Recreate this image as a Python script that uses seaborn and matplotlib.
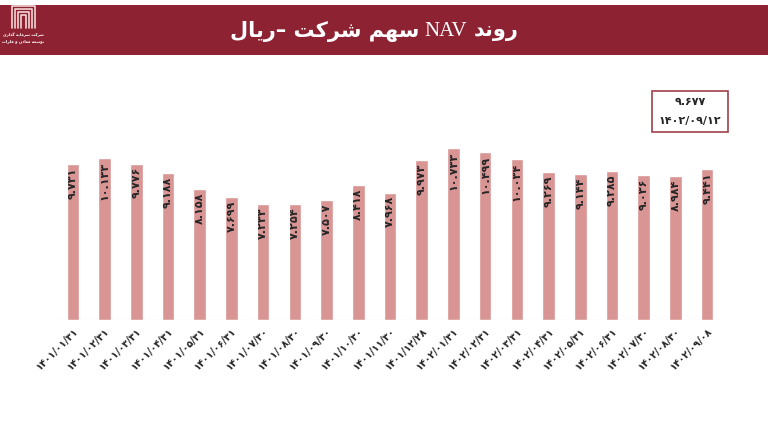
import matplotlib.pyplot as plt
import seaborn as sns
from matplotlib.patches import Rectangle

# ---- data ----
dates = [
    "1401/01/31", "1401/02/31", "1401/03/31", "1401/04/31", "1401/05/31",
    "1401/06/31", "1401/07/30", "1401/08/30", "1401/09/30", "1401/10/30",
    "1401/11/30", "1401/12/28", "1402/01/31", "1402/02/31", "1402/03/31",
    "1402/04/31", "1402/05/31", "1402/06/31", "1402/07/30", "1402/08/30",
    "1402/09/08",
]
nav = [
    9.731, 10.133, 9.776, 9.188, 8.158, 7.699, 7.233, 7.254, 7.507, 8.418,
    7.968, 9.973, 10.733, 10.499, 10.034, 9.269, 9.144, 9.285, 9.036, 8.984,
    9.441,
]
latest_nav = "9.677"
latest_date = "1402/09/12"

# title: "روند NAV سهم شرکت –ریال", split so NAV can be set in a serif face
title_right = "روند"
title_mid = "NAV"
title_left = "سهم شرکت –ریال"
company_lines = ["شرکت سرمایه گذاری", "توسعه معادن و فلزات"]

BAR_COLOR = "#D99594"
HEADER_COLOR = "#8C2232"

# ---- minimal Persian shaping (matplotlib does no Arabic shaping) ----
FORMS = {
    "ا": "\uFE8D\uFE8E", "د": "\uFEA9\uFEAA", "ذ": "\uFEAB\uFEAC",
    "ر": "\uFEAD\uFEAE", "ز": "\uFEAF\uFEB0", "و": "\uFEED\uFEEE",
    "ت": "\uFE95\uFE96\uFE97\uFE98", "س": "\uFEB1\uFEB2\uFEB3\uFEB4",
    "ش": "\uFEB5\uFEB6\uFEB7\uFEB8", "ع": "\uFEC9\uFECA\uFECB\uFECC",
    "ف": "\uFED1\uFED2\uFED3\uFED4", "ل": "\uFEDD\uFEDE\uFEDF\uFEE0",
    "م": "\uFEE1\uFEE2\uFEE3\uFEE4", "ن": "\uFEE5\uFEE6\uFEE7\uFEE8",
    "ه": "\uFEE9\uFEEA\uFEEB\uFEEC", "ک": "\uFB8E\uFB8F\uFB90\uFB91",
    "گ": "\uFB92\uFB93\uFB94\uFB95", "ی": "\uFBFC\uFBFD\uFBFE\uFBFF",
}


def shape_word(word):
    out = []
    for i, ch in enumerate(word):
        if ch not in FORMS:
            out.append(ch)
            continue
        prev = word[i - 1] if i > 0 else ""
        nxt = word[i + 1] if i + 1 < len(word) else ""
        join_prev = prev in FORMS and len(FORMS[prev]) == 4
        join_next = len(FORMS[ch]) == 4 and nxt in FORMS
        f = FORMS[ch]
        if join_prev and join_next:
            out.append(f[3])
        elif join_prev:
            out.append(f[1])
        elif join_next:
            out.append(f[2])
        else:
            out.append(f[0])
    return "".join(reversed(out))


def fa(text):
    words = text.split(" ")
    vis = []
    for w in reversed(words):
        if any(c in FORMS for c in w):
            vis.append(shape_word(w))
        else:
            vis.append(w)
    return " ".join(vis)


def fa_digits(s):
    return s.translate(str.maketrans("0123456789", "۰۱۲۳۴۵۶۷۸۹"))


# ---- figure ----
sns.set_style("white")
plt.rcParams["font.family"] = ["DejaVu Sans"]

fig = plt.figure(figsize=(7.68, 4.32), dpi=100)

# decoration layer in pixel coordinates
deco = fig.add_axes([0, 0, 1, 1], zorder=0)
deco.set_xlim(0, 768)
deco.set_ylim(432, 0)
deco.axis("off")
deco.add_patch(Rectangle((0, 5), 768, 50, color=HEADER_COLOR, lw=0))

# logo: nested arches
for inset in [0, 3, 6, 9]:
    x0, x1 = 12 + inset, 35 - inset
    y0, y1 = 6 + inset, 28
    deco.plot([x0, x0, x1, x1], [y1, y0, y0, y1], color="#F3D6D6", lw=1.2)
for j, line in enumerate(company_lines):
    deco.text(23, 35 + j * 6, fa(line), color="white", fontsize=2.8,
              ha="center", va="center", fontweight="bold")

deco.text(474, 31, fa(title_right), color="white", fontsize=15,
          fontweight="bold", ha="left", va="center")
deco.text(446, 32, title_mid, color="white", fontsize=15,
          family="Liberation Serif", ha="center", va="center")
deco.text(419, 31, fa(title_left), color="white", fontsize=15,
          fontweight="bold", ha="right", va="center")

# latest value box
deco.add_patch(Rectangle((652, 91), 76, 41, fill=False, ec="#A0414B", lw=1.2))
deco.text(690, 102, fa_digits(latest_nav), fontsize=8, fontweight="bold",
          ha="center", va="center")
deco.text(690, 121, fa_digits(latest_date), fontsize=8, fontweight="bold",
          ha="center", va="center")

# chart
ax = fig.add_axes([57 / 768, 1 - 320 / 432, 666 / 768, 220 / 432], zorder=1)
ax.patch.set_alpha(0)
labels = [fa_digits(d) for d in dates]
sns.barplot(x=labels, y=nav, color=BAR_COLOR, width=0.4, saturation=1, ax=ax)

for i, v in enumerate(nav):
    ax.annotate(fa_digits(f"{v:.3f}"), xy=(i, v), xytext=(0, -2.5),
                textcoords="offset points", rotation=90, ha="center",
                va="top", fontsize=8, fontweight="bold")

ax.set_xlim(-0.5, len(nav) - 0.5)
ax.set_ylim(0, 13.75)
ax.axhline(0, color="#D9D9D9", lw=0.8)
for s in ax.spines.values():
    s.set_visible(False)
ax.set_yticks([])
ax.set_xlabel("")
ax.set_ylabel("")
ax.tick_params(axis="x", length=0, pad=4)
for t in ax.get_xticklabels():
    t.set_rotation(45)
    t.set_ha("right")
    t.set_rotation_mode("anchor")
    t.set_fontsize(7)
    t.set_fontweight("bold")

fig.savefig("out.png", dpi=100)
